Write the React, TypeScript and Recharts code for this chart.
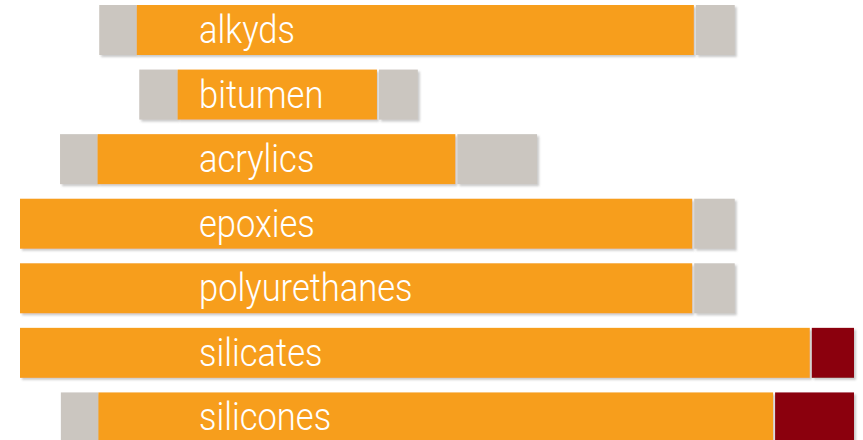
import React from "react";
import { BarChart, Bar, XAxis, YAxis, Cell, LabelList } from "recharts";

// Categories (top to bottom)
const categories = ["alkyds", "bitumen", "acrylics", "epoxies", "polyurethanes", "silicates", "silicones"];
// Range start (left end of the left extension)
const rangeStart = [9.5, 14.3, 4.8, 0, 0, 0, 4.9];
// Left extension end / core start
const coreStart = [14.0, 18.9, 9.3, 0, 0, 0, 9.4];
// Core end
const coreEnd = [80.8, 42.8, 52.2, 80.6, 80.6, 94.7, 90.3];
// Right extension end
const rangeEnd = [85.7, 47.7, 62.0, 85.7, 85.7, 100, 100];
// Right extension kind
const extensionKind = ["grey", "grey", "grey", "grey", "grey", "red", "red"];

const ORANGE = "#F79E1F";
const GREY = "#CBC6C0";
const RED = "#8B000C";

const data = categories.map((name, i) => ({
  name,
  offset: rangeStart[i],
  left: coreStart[i] - rangeStart[i],
  core: coreEnd[i] - coreStart[i],
  right: rangeEnd[i] - coreEnd[i],
  kind: extensionKind[i],
}));

const makeShape = (gapLeft: number) => (props: any) => {
  const { x, y, width, height, fill } = props;
  if (!width || width <= 0) return <g />;
  const w = Math.max(0, width - gapLeft);
  return (
    <rect
      x={x + gapLeft}
      y={y}
      width={w}
      height={height}
      fill={fill}
      filter="url(#barShadow)"
    />
  );
};

const renderLabel = (props: any) => {
  const { y, height, value } = props;
  const baseline = y + height / 2 + 13;
  return (
    <text
      x={0}
      y={0}
      transform={`translate(199, ${baseline}) scale(0.885, 1)`}
      fill="#FFFFFF"
      fontFamily="Roboto, 'DejaVu Sans', sans-serif"
      fontWeight={300}
      fontSize={39}
      textAnchor="start"
    >
      {value}
    </text>
  );
};

export default function App() {
  return (
    <div
      style={{
        position: "fixed",
        left: 0,
        top: 0,
        width: 863,
        height: 440,
        overflow: "hidden",
        background: "#FFFFFF",
      }}
    >
      <div style={{ marginTop: -2 }}>
        <BarChart
          width={863}
          height={452}
          data={data}
          layout="vertical"
          margin={{ top: 0, right: 9, bottom: 0, left: 20 }}
          barSize={50}
        >
          <defs>
            <filter id="barShadow" x="-10%" y="-10%" width="130%" height="140%">
              <feDropShadow dx="2" dy="2" stdDeviation="1.2" floodColor="#8A8A8A" floodOpacity="0.45" />
            </filter>
          </defs>
          <XAxis type="number" domain={[0, 100]} hide />
          <YAxis type="category" dataKey="name" hide />
          <Bar dataKey="offset" stackId="r" fill="transparent" isAnimationActive={false} />
          <Bar dataKey="left" stackId="r" fill={GREY} shape={makeShape(0)} isAnimationActive={false} />
          <Bar dataKey="core" stackId="r" fill={ORANGE} shape={makeShape(0)} isAnimationActive={false}>
            <LabelList dataKey="name" content={renderLabel} />
          </Bar>
          <Bar dataKey="right" stackId="r" shape={makeShape(2)} isAnimationActive={false}>
            {data.map((d, i) => (
              <Cell key={i} fill={d.kind === "red" ? RED : GREY} />
            ))}
          </Bar>
        </BarChart>
      </div>
    </div>
  );
}
